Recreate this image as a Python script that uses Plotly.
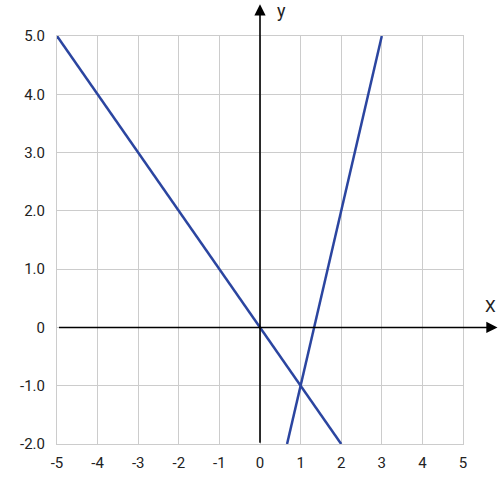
import plotly.graph_objects as go

line1_x = [-5, 2]
line1_y = [5, -2]
line2_x = [2/3, 3]
line2_y = [-2, 5]

x_ticks = [-5, -4, -3, -2, -1, 0, 1, 2, 3, 4, 5]
x_labels = ["-5", "-4", "-3", "-2", "-1", "0", "1", "2", "3", "4", "5"]
y_ticks = [-2, -1, 0, 1, 2, 3, 4, 5]
y_labels = ["-2.0", "-1.0", "0", "1.0", "2.0", "3.0", "4.0", "5.0"]

line_color = "#2b45a0"

fig = go.Figure()
fig.add_trace(go.Scatter(x=line1_x, y=line1_y, mode="lines",
                         line=dict(color=line_color, width=2.5), cliponaxis=False))
fig.add_trace(go.Scatter(x=line2_x, y=line2_y, mode="lines",
                         line=dict(color=line_color, width=2.5), cliponaxis=False))

fig.update_layout(
    width=500, height=503,
    margin=dict(l=57, r=37, t=36, b=59),
    plot_bgcolor="white", paper_bgcolor="white",
    showlegend=False,
    font=dict(family="Roboto", size=15, color="#222222"),
    xaxis=dict(range=[-5, 5], tickvals=x_ticks, ticktext=x_labels,
               showgrid=True, gridcolor="#cccccc", gridwidth=1,
               zeroline=False, showline=True, linecolor="#cccccc", mirror=True,
               ticks="outside", ticklen=5, tickcolor="rgba(0,0,0,0)",
               fixedrange=True),
    yaxis=dict(range=[-2, 5], tickvals=y_ticks, ticktext=y_labels,
               showgrid=True, gridcolor="#cccccc", gridwidth=1,
               zeroline=False, showline=True, linecolor="#cccccc", mirror=True,
               ticks="outside", ticklen=8, tickcolor="rgba(0,0,0,0)",
               fixedrange=True),
)

# axis arrows
fig.add_annotation(x=1.085, y=0, xref="paper", yref="y", text="",
                   showarrow=True, ax=-440, ay=0, arrowhead=2, arrowsize=1.4,
                   arrowwidth=1.6, arrowcolor="black")
fig.add_annotation(x=0, y=1.078, xref="x", yref="paper", text="",
                   showarrow=True, ax=0, ay=440, arrowhead=2, arrowsize=1.4,
                   arrowwidth=1.6, arrowcolor="black")
fig.add_annotation(x=1.067, y=0.36, xref="paper", yref="y", text="X",
                   xanchor="center", yanchor="middle",
                   showarrow=False, font=dict(size=17, color="#222222"))
fig.add_annotation(x=0.54, y=1.063, xref="x", yref="paper", text="y",
                   xanchor="center", yanchor="middle",
                   showarrow=False, font=dict(size=18, color="#222222"))

fig.write_html("out.html", post_script="document.body.style.margin='0';",
               config={"displayModeBar": False})
